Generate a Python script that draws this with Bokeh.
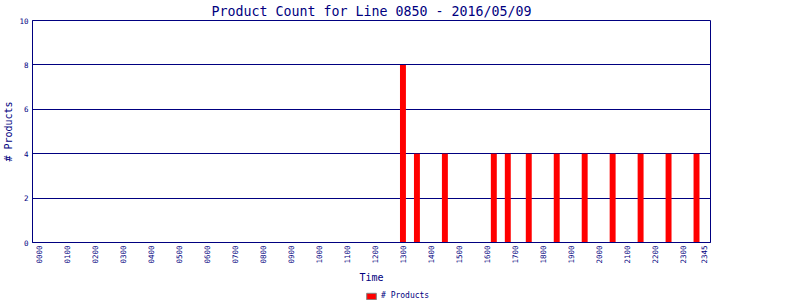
from bokeh.plotting import figure
from bokeh.layouts import column
from bokeh.models import Range1d, FixedTicker, Legend, LegendItem, ColumnDataSource
from bokeh.embed import file_html
from bokeh.resources import INLINE
from math import pi

title_text = "Product Count for Line 0850 - 2016/05/09"
x_label = "Time"
y_label = "# Products"
series_name = "# Products"

tick_labels = ["0000", "0100", "0200", "0300", "0400", "0500", "0600", "0700",
               "0800", "0900", "1000", "1100", "1200", "1300", "1400", "1500",
               "1600", "1700", "1800", "1900", "2000", "2100", "2200", "2300", "2345"]
bar_times = ["1300", "1330", "1430", "1615", "1645", "1730", "1830",
             "1930", "2030", "2130", "2230", "2330"]
bar_counts = [8, 4, 4, 4, 4, 4, 4, 4, 4, 4, 4, 4]
y_ticks = [0, 2, 4, 6, 8, 10]

NAVY = "#000080"
FONT = "DejaVu Sans Mono"


def slot(t):
    return int(t[:2]) * 4 + int(t[2:]) // 15


source = ColumnDataSource(data=dict(x=[slot(t) for t in bar_times], top=bar_counts))

p = figure(width=800, height=288, output_backend="svg", toolbar_location=None,
           x_range=Range1d(-1, 96), y_range=Range1d(0, 10),
           min_border_left=31, min_border_right=90, min_border_top=20,
           min_border_bottom=46)
p.background_fill_color = "white"
p.border_fill_color = "white"
p.outline_line_color = NAVY
p.outline_line_width = 1

p.title.text = title_text
p.title.text_font = FONT
p.title.text_font_size = "13.3px"
p.title.text_font_style = "normal"
p.title.text_color = NAVY
p.title.align = "center"
p.title.vertical_align = "top"
p.title.standoff = 0

p.vbar(x="x", top="top", width=0.85, source=source, fill_color="red",
       line_color=None)

# x axis
xa = p.xaxis[0]
xa.ticker = FixedTicker(ticks=[slot(t) for t in tick_labels])
xa.major_label_overrides = {slot(t): t for t in tick_labels}
xa.major_label_orientation = pi / 2
xa.major_label_text_font = FONT
xa.major_label_text_font_size = "7.5px"
xa.major_label_text_color = NAVY
xa.major_label_standoff = 3
xa.major_tick_line_color = None
xa.major_tick_out = 0
xa.major_tick_in = 0
xa.minor_tick_line_color = None
xa.axis_line_color = NAVY
xa.axis_label = x_label
xa.axis_label_text_font = FONT
xa.axis_label_text_font_size = "10px"
xa.axis_label_text_font_style = "normal"
xa.axis_label_text_color = NAVY
xa.axis_label_standoff = 5

# y axis
ya = p.yaxis[0]
ya.ticker = FixedTicker(ticks=y_ticks)
ya.major_label_text_font = FONT
ya.major_label_text_font_size = "7.5px"
ya.major_label_text_color = NAVY
ya.major_label_standoff = 4
ya.major_tick_line_color = None
ya.major_tick_out = 0
ya.major_tick_in = 0
ya.minor_tick_line_color = None
ya.axis_line_color = NAVY
ya.axis_label = y_label
ya.axis_label_text_font = FONT
ya.axis_label_text_font_size = "10px"
ya.axis_label_text_font_style = "normal"
ya.axis_label_text_color = NAVY
ya.axis_label_standoff = 2

p.xgrid.grid_line_color = None
p.ygrid.ticker = FixedTicker(ticks=y_ticks)
p.ygrid.grid_line_color = NAVY
p.ygrid.grid_line_width = 1
p.ygrid.grid_line_alpha = 1.0

# legend strip below the chart (its bars lie far outside its visible range)
lg = figure(width=800, height=12, output_backend="svg", toolbar_location=None,
            x_range=Range1d(-1, 96), y_range=Range1d(1000, 1001),
            x_axis_location=None, y_axis_location=None,
            min_border_left=0, min_border_right=0, min_border_top=0,
            min_border_bottom=0)
lg.grid.grid_line_color = None
lg.outline_line_color = None
lg.background_fill_color = "white"
lg.border_fill_color = "white"
key = lg.vbar(x="x", top="top", width=0.85, source=source, fill_color="red",
              line_color="#808080")
legend = Legend(items=[LegendItem(label=series_name, renderers=[key])],
                location=(333, 0), orientation="horizontal",
                padding=0, margin=0, spacing=0,
                glyph_width=12, glyph_height=8, label_height=8,
                label_standoff=4, label_text_font=FONT,
                label_text_font_size="8px", label_text_color=NAVY,
                label_text_baseline="middle",
                border_line_color=None, background_fill_alpha=0)
lg.add_layout(legend)

layout = column(p, lg, spacing=0)
open("out.html", "w").write(file_html(layout, INLINE))
